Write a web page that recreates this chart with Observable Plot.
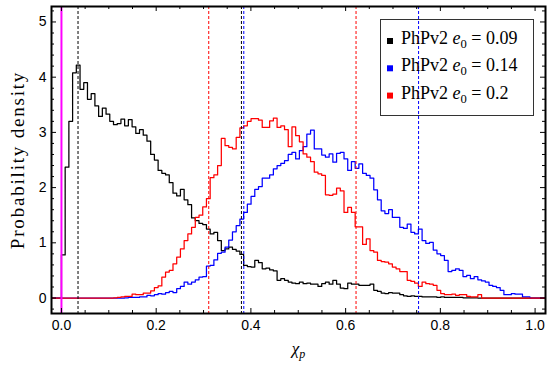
<!DOCTYPE html>
<html><head><meta charset="utf-8">
<script src="https://cdn.jsdelivr.net/npm/d3@7"></script>
<script src="https://cdn.jsdelivr.net/npm/@observablehq/plot@0.6"></script>
<style>
body{margin:0;background:#fff;}
#chart{position:relative;width:548px;height:367px;}
</style></head><body><div id="chart"></div>
<script>
// histogram bins (common to all series)
const binStart = 0;
const binWidth = 0.00785;

// PhPv2 e0 = 0.09
const black = [
0.78,2.37,3.20,4.08,4.22,3.78,3.90,3.60,3.70,3.48,
3.29,3.44,3.33,3.20,3.14,3.16,3.24,3.12,3.23,3.10,
2.98,3.05,2.95,2.84,2.60,2.50,2.31,2.26,2.23,2.09,
1.90,1.85,1.97,1.78,1.69,1.45,1.40,1.35,1.33,1.25,
1.16,1.19,1.04,0.86,0.89,0.92,0.88,0.85,0.79,0.59,
0.57,0.56,0.68,0.64,0.53,0.54,0.51,0.49,0.32,0.35,
0.32,0.29,0.27,0.26,0.29,0.26,0.27,0.25,0.25,0.21,
0.26,0.29,0.25,0.32,0.25,0.18,0.17,0.27,0.25,0.25,
0.23,0.23,0.23,0.25,0.14,0.12,0.09,0.08,0.10,0.09,
0.09,0.06,0.04,0.03,0.04,0.03,0.03,0.02,0.02,0.02,
0.02,0.01,0.02,0.01,0.01,0.01,0.01,0.01,0.005,0.005,
0.005,0.005,0,0,0,0,0,0,0,0,
0,0,0,0,0,0,0];

// PhPv2 e0 = 0.14
const blue = [
0,0,0,0,0,0,0,0,0,0,
0,0,0,0,0,0,0,0.005,0.01,0.01,
0.01,0.02,0.02,0.05,0.04,0.06,0.08,0.07,0.10,0.12,
0.10,0.17,0.21,0.29,0.25,0.29,0.33,0.38,0.39,0.58,
0.59,0.69,0.81,0.83,0.92,1.05,1.20,1.31,1.43,1.55,
1.70,1.84,1.97,2.02,2.17,2.17,2.23,2.34,2.40,2.44,
2.49,2.60,2.64,2.52,2.67,2.74,2.97,3.04,2.70,2.70,
2.59,2.55,2.61,2.46,2.62,2.64,2.52,2.31,2.47,2.35,
2.43,2.26,2.22,2.17,1.96,1.78,1.58,1.53,1.60,1.46,
1.46,1.28,1.26,1.34,1.19,1.16,1.25,1.04,0.99,1.01,
0.87,0.80,0.77,0.68,0.48,0.50,0.53,0.50,0.39,0.41,
0.35,0.39,0.33,0.31,0.29,0.23,0.21,0.19,0.14,0.06,
0.06,0.08,0.07,0.07,0.02,0.02,0];

// PhPv2 e0 = 0.2
const red = [
0,0,0,0,0,0,0,0,0,0,
0,0,0,0,0.005,0.01,0.02,0.03,0.03,0.07,
0.06,0.06,0.09,0.09,0.13,0.19,0.22,0.38,0.47,0.50,
0.62,0.74,0.89,1.04,1.16,1.28,1.46,1.50,1.65,1.80,
2.18,2.23,2.40,2.89,2.76,2.73,2.70,2.91,3.08,3.12,
3.20,3.25,3.25,3.22,3.09,3.09,3.21,3.26,3.09,3.12,
3.05,2.74,3.10,2.94,2.83,2.61,2.55,2.47,2.28,2.25,
2.22,1.87,1.86,1.88,1.99,1.94,1.55,1.64,1.55,1.29,
1.29,0.97,1.07,0.86,0.83,0.68,0.66,0.65,0.62,0.56,
0.53,0.48,0.48,0.32,0.30,0.27,0.21,0.29,0.26,0.25,
0.23,0.14,0.08,0.06,0.06,0.07,0.05,0.06,0.06,0.03,
0.02,0.02,0.06,0,0,0,0,0,0,0,
0,0,0,0,0,0,0];

// interval bounds (dashed lines)
const blackBounds = [0.035, 0.380];
const blueBounds = [0.385, 0.754];
const redBounds = [0.311, 0.622];
const magentaLine = [0];

// legend
const seriesLabel = "PhPv2";
const eccValues = ["0.09", "0.14", "0.2"];
const seriesColors = ["#000000", "#0000ff", "#ff0000"];

// ticks
const xMajor = [0, 0.2, 0.4, 0.6, 0.8, 1.0];
const xMinor = [0.05,0.1,0.15,0.25,0.3,0.35,0.45,0.5,0.55,0.65,0.7,0.75,0.85,0.9,0.95];
const yMajor = [0, 1, 2, 3, 4, 5];
const yMinor = [-0.2,0.2,0.4,0.6,0.8,1.2,1.4,1.6,1.8,2.2,2.4,2.6,2.8,3.2,3.4,3.6,3.8,4.2,4.4,4.6,4.8,5.2];
const xDomain = [-0.021, 1.022];
const yDomain = [-0.28, 5.28];
const yTitle = "Probability density";
const xTitle = "χp";

const W = 548, H = 367;
const mL = 51, mR = 3, mT = 6, mB = 54;
const pW = W - mL - mR, pH = H - mT - mB;

function steps(vals) {
  const pts = [{x: xDomain[0], y: 0}, {x: binStart, y: 0}];
  vals.forEach((v, i) => pts.push({x: binStart + i * binWidth, y: v}));
  pts.push({x: binStart + vals.length * binWidth, y: 0});
  pts.push({x: xDomain[1], y: 0});
  return pts;
}

const sans = "Liberation Sans, Arial, Helvetica, sans-serif";
const serif = "Liberation Serif, Times New Roman, serif";
const histStyle = {x: "x", y: "y", curve: "step-after", strokeWidth: 1.25};

const svg = Plot.plot({
  width: W, height: H,
  marginLeft: mL, marginRight: mR, marginTop: mT, marginBottom: mB,
  x: {domain: xDomain},
  y: {domain: yDomain},
  style: {background: "white", fontFamily: sans, fontSize: "14px", color: "black"},
  marks: [
    Plot.line(steps(black), {...histStyle, stroke: seriesColors[0]}),
    Plot.line(steps(blue), {...histStyle, stroke: seriesColors[1]}),
    Plot.line(steps(red), {...histStyle, stroke: seriesColors[2]}),
    Plot.ruleX(blackBounds, {stroke: "#000", strokeWidth: 1, strokeDasharray: "3,2"}),
    Plot.ruleX(redBounds, {stroke: "#ff0000", strokeWidth: 1, strokeDasharray: "3,2"}),
    Plot.ruleX(blueBounds, {stroke: "#0000ff", strokeWidth: 1, strokeDasharray: "3,2"}),
    Plot.ruleX(magentaLine, {stroke: "#ff00ff", strokeWidth: 2}),
    // inward ticks
    Plot.ruleX(xMajor, {insetTop: pH - 5, stroke: "black"}),
    Plot.ruleX(xMajor, {insetBottom: pH - 5, stroke: "black"}),
    Plot.ruleX(xMinor, {insetTop: pH - 3, stroke: "black"}),
    Plot.ruleX(xMinor, {insetBottom: pH - 3, stroke: "black"}),
    Plot.ruleY(yMajor, {insetRight: pW - 5, stroke: "black"}),
    Plot.ruleY(yMajor, {insetLeft: pW - 5, stroke: "black"}),
    Plot.ruleY(yMinor, {insetRight: pW - 3, stroke: "black"}),
    Plot.ruleY(yMinor, {insetLeft: pW - 3, stroke: "black"}),
    Plot.axisX(xMajor, {tickSize: 0, tickPadding: 7, tickFormat: d3.format(".1f"), label: null, fontSize: 14, fontFamily: sans}),
    Plot.axisY(yMajor, {tickSize: 0, tickPadding: 5, tickFormat: d3.format("d"), label: null, fontSize: 14, fontFamily: sans}),
    Plot.text([yTitle], {text: d => d, frameAnchor: "left", textAnchor: "middle", dx: -34, rotate: -90, fontSize: 19, fontFamily: serif}),
    Plot.text([xTitle], {text: d => d, frameAnchor: "bottom", textAnchor: "middle", dy: 40, fontSize: 17, fontFamily: serif, fontStyle: "italic"}),
    Plot.frame({stroke: "black", strokeWidth: 2})
  ]
});

// post-process titles
d3.select(svg).selectAll("text").each(function() {
  const t = d3.select(this);
  if (this.textContent === yTitle) t.style("letter-spacing", "1.8px");
  if (this.textContent === xTitle) {
    t.text(null);
    t.append("tspan").text("χ");
    t.append("tspan").attr("font-size", 12).attr("dy", 4).text("p");
  }
});

// legend
const lg = d3.select(svg).append("g").attr("transform", "translate(380.5,19.5)").attr("text-anchor", "start");
lg.append("rect").attr("width", 153).attr("height", 96).attr("fill", "none").attr("stroke", "#333").attr("stroke-width", 1);
eccValues.forEach((e, i) => {
  const base = 24.5 + i * 27.3;
  lg.append("rect").attr("x", 6.5).attr("y", base - 6).attr("width", 6).attr("height", 6).attr("fill", seriesColors[i]);
  const t = lg.append("text").attr("x", 20.5).attr("y", base).attr("text-anchor", "start")
    .attr("font-family", serif).attr("font-size", 18).attr("fill", "black");
  t.append("tspan").text(seriesLabel + " ");
  t.append("tspan").attr("font-style", "italic").text("e");
  t.append("tspan").attr("font-size", 12.6).attr("dy", 4).text("0");
  t.append("tspan").attr("dy", -4).text(" = " + e);
});

document.getElementById("chart").appendChild(svg);
</script></body></html>
